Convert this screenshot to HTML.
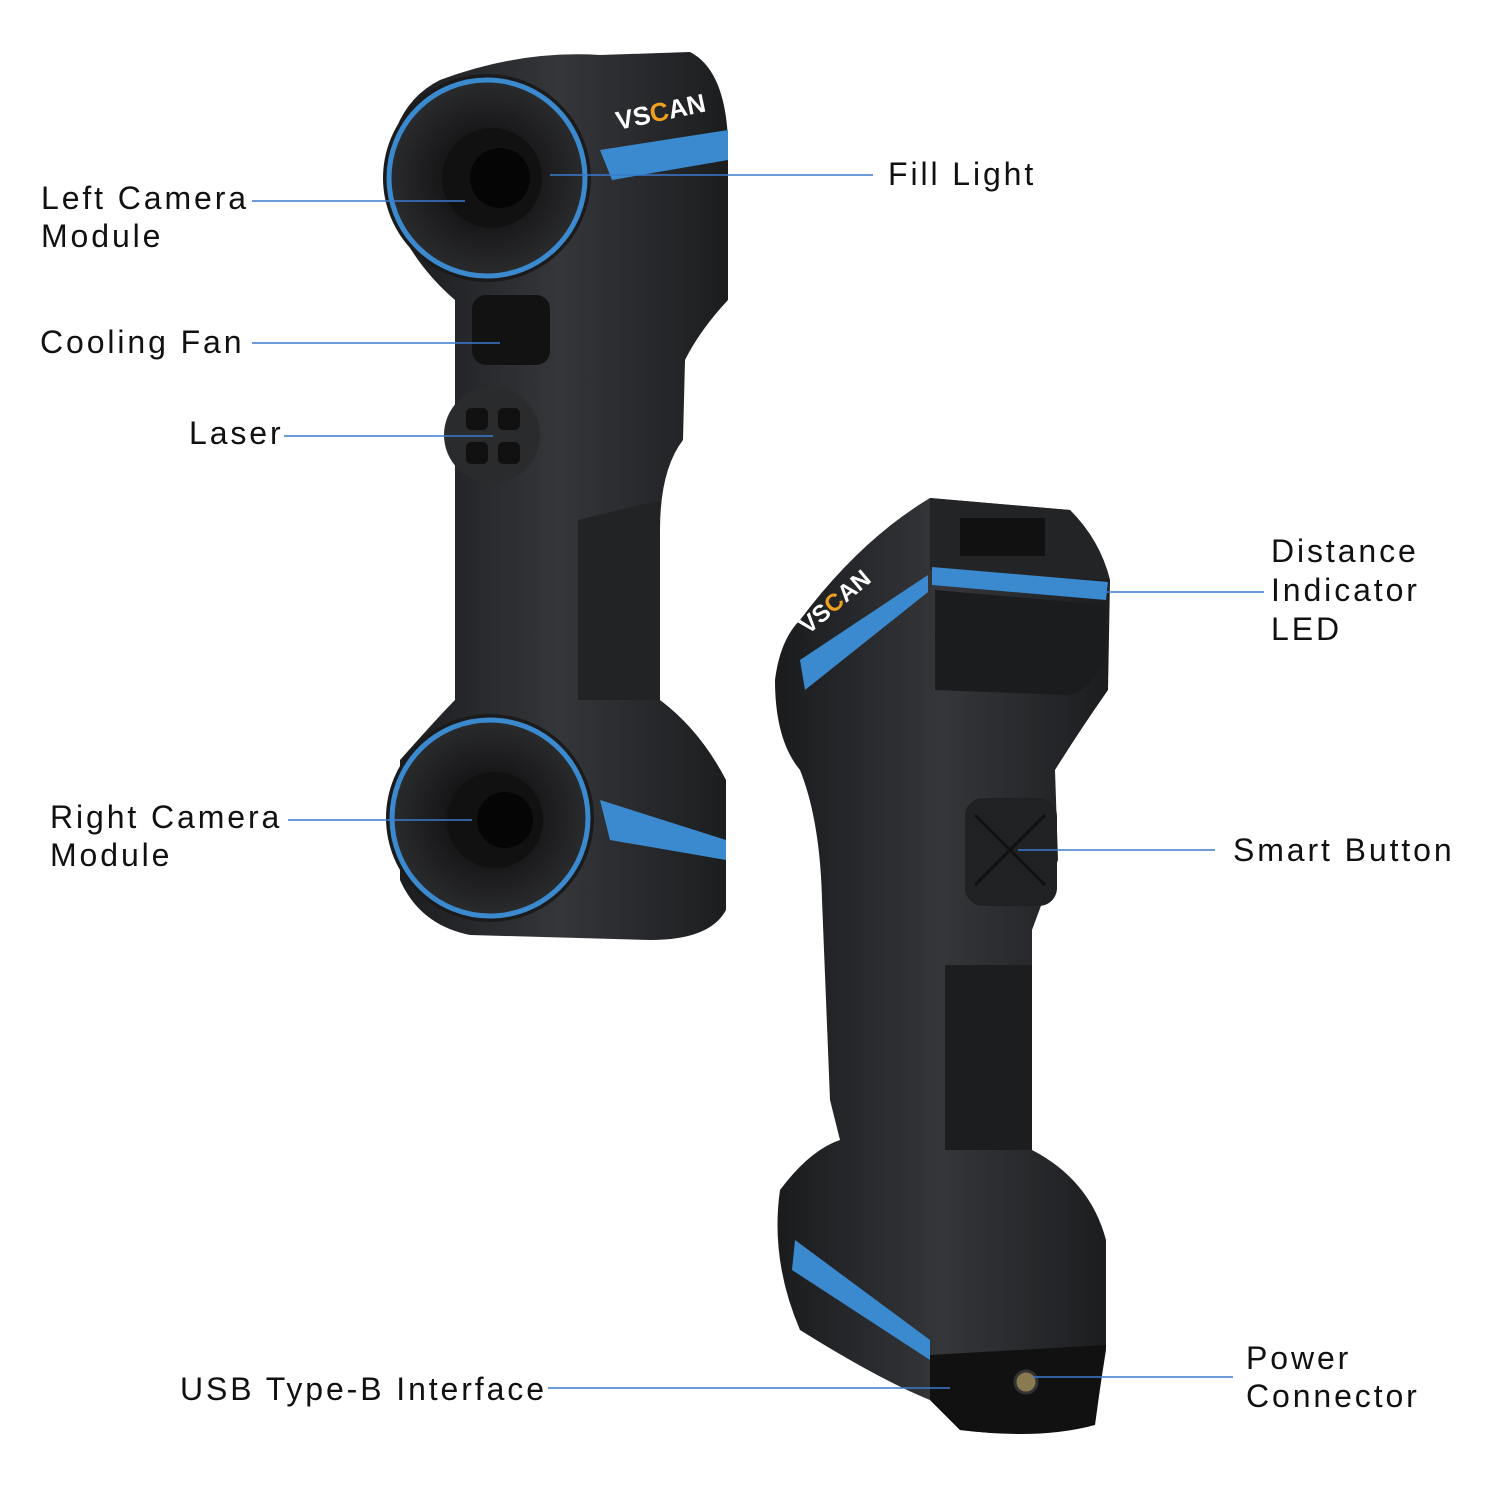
<!DOCTYPE html>
<html><head><meta charset="utf-8"><style>
html,body{margin:0;padding:0;background:#fff;}
svg{display:block}
text{font-family:"Liberation Sans",sans-serif;font-size:32px;fill:#111;letter-spacing:2.9px;}
</style></head><body>
<svg width="1500" height="1500" viewBox="0 0 1500 1500" xmlns="http://www.w3.org/2000/svg">
<defs>
<linearGradient id="bd" x1="0" x2="1" y1="0" y2="0"><stop offset="0" stop-color="#1a1b1d"/><stop offset="0.5" stop-color="#34363a"/><stop offset="1" stop-color="#1c1d1f"/></linearGradient>
<radialGradient id="cam" cx="0.5" cy="0.5" r="0.5"><stop offset="0" stop-color="#050505"/><stop offset="0.6" stop-color="#1c1c1e"/><stop offset="1" stop-color="#2a2b2d"/></radialGradient>
</defs>
<!-- Scanner 1 -->
<path d="M440 80 Q520 50 600 55 L690 52 Q725 70 728 140 L728 300 Q700 330 685 360 L683 440 Q660 470 660 530 L660 700 Q700 730 726 780 L726 910 Q710 940 650 940 L470 935 Q420 925 400 880 L400 760 Q440 715 455 700 L455 300 Q420 270 400 230 L390 150 Q400 100 440 80 Z" fill="url(#bd)"/>
<path d="M578 520 L660 500 L660 700 L578 700 Z" fill="#222325"/>
<path d="M600 150 L728 130 L728 160 L612 180 Z" fill="#3b8ad0"/>
<path d="M600 800 L726 840 L726 860 L610 840 Z" fill="#3b8ad0"/>
<circle cx="487" cy="178" r="104" fill="#1b1b1c"/>
<circle cx="487" cy="178" r="98" fill="url(#cam)" stroke="#3b8ad0" stroke-width="5"/>
<circle cx="492" cy="178" r="50" fill="#111"/>
<circle cx="500" cy="178" r="30" fill="#050505"/>
<text x="618" y="130" style="font-size:26px;fill:#fff;font-weight:bold;letter-spacing:0" transform="rotate(-12 618 130)">VS<tspan fill="#f0a020">C</tspan>AN</text>
<rect x="472" y="295" width="78" height="70" rx="14" fill="#121213"/>
<circle cx="492" cy="435" r="48" fill="#2a2b2d"/>
<rect x="466" y="408" width="22" height="22" rx="5" fill="#111"/><rect x="498" y="408" width="22" height="22" rx="5" fill="#111"/>
<rect x="466" y="442" width="22" height="22" rx="5" fill="#111"/><rect x="498" y="442" width="22" height="22" rx="5" fill="#111"/>
<circle cx="490" cy="818" r="104" fill="#1b1b1c"/>
<circle cx="490" cy="818" r="98" fill="url(#cam)" stroke="#3b8ad0" stroke-width="5"/>
<circle cx="495" cy="820" r="48" fill="#111"/>
<circle cx="505" cy="820" r="28" fill="#050505"/>
<!-- Scanner 2 -->
<path d="M930 498 L1070 510 Q1100 540 1110 580 L1108 690 Q1080 730 1055 770 L1058 860 L1032 930 L1032 1150 Q1090 1180 1106 1240 L1106 1350 L1095 1420 Q1040 1440 960 1430 L930 1400 Q880 1380 800 1330 Q770 1260 780 1190 Q810 1150 840 1140 L830 1100 L822 900 Q820 820 800 770 Q775 740 775 680 Q780 640 800 620 Q860 540 930 498 Z" fill="url(#bd)"/>
<path d="M930 498 L1070 510 Q1100 540 1110 580 L930 570 Z" fill="#232426"/>
<rect x="960" y="518" width="85" height="38" fill="#111"/>
<path d="M932 567 L1108 582 L1106 600 L932 585 Z" fill="#3b8ad0"/>
<path d="M800 660 L928 575 L928 592 L805 690 Z" fill="#3b8ad0"/>
<text x="808" y="635" style="font-size:24px;fill:#fff;font-weight:bold;letter-spacing:0" transform="rotate(-40 808 635)">VS<tspan fill="#f0a020">C</tspan>AN</text>
<path d="M935 590 L1105 605 L1105 660 Q1090 690 1070 695 L935 690 Z" fill="#1b1c1e"/>
<rect x="965" y="798" width="92" height="108" rx="18" fill="#202123"/>
<path d="M975 815 L1045 885 M1045 815 L975 885" stroke="#111" stroke-width="3"/>
<path d="M945 965 L1032 965 L1032 1150 L945 1150 Z" fill="#1c1d1f"/>
<path d="M795 1240 L930 1340 L930 1360 L792 1270 Z" fill="#3b8ad0"/>
<path d="M930 1355 L1106 1345 L1095 1425 Q1040 1440 960 1430 L930 1400 Z" fill="#111"/>
<circle cx="1026" cy="1382" r="11" fill="#8a7a50" stroke="#333" stroke-width="3"/>
<!-- Lines -->
<g stroke="#3b7ad0" stroke-width="1.6">
<line x1="252" y1="201" x2="465" y2="201"/>
<line x1="550" y1="175" x2="873" y2="175"/>
<line x1="252" y1="343" x2="500" y2="343"/>
<line x1="284" y1="436" x2="493" y2="436"/>
<line x1="288" y1="820" x2="472" y2="820"/>
<line x1="1105" y1="592" x2="1264" y2="592"/>
<line x1="1018" y1="850" x2="1215" y2="850"/>
<line x1="548" y1="1388" x2="950" y2="1388"/>
<line x1="1033" y1="1377" x2="1233" y2="1377"/>
</g>
<!-- Labels -->
<text x="41" y="209">Left Camera</text><text x="41" y="247">Module</text>
<text x="888" y="185">Fill Light</text>
<text x="40" y="353">Cooling Fan</text>
<text x="189" y="444">Laser</text>
<text x="50" y="828">Right Camera</text><text x="50" y="866">Module</text>
<text x="1271" y="562">Distance</text><text x="1271" y="601">Indicator</text><text x="1271" y="640">LED</text>
<text x="1233" y="861">Smart Button</text>
<text x="180" y="1400">USB Type-B Interface</text>
<text x="1246" y="1369">Power</text><text x="1246" y="1407">Connector</text>
</svg>
</body></html>
